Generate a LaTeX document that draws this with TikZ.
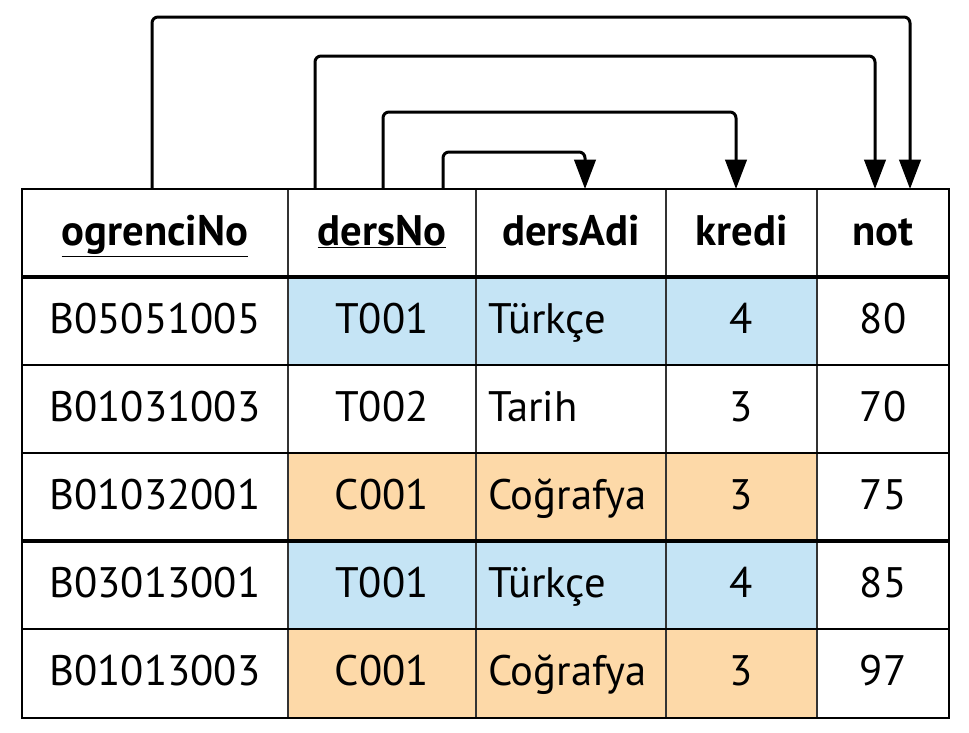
\documentclass[tikz,border=0pt]{standalone}
\usepackage{fontspec}
\setmainfont{PT Sans}
\usetikzlibrary{arrows.meta}
\definecolor{tblue}{RGB}{197,228,245}
\definecolor{torange}{RGB}{253,217,168}

\begin{document}
\begin{tikzpicture}[x=0.75pt, y=-0.75pt, >={Triangle[length=22pt, width=16pt]},
    every node/.style={font=\fontsize{32}{38}\selectfont},
    cell/.style={inner sep=0pt, minimum height=66pt, text height=24.5pt, text depth=6.5pt},
    dep/.style={->, line width=2.25pt, rounded corners=4.5pt},
    grid/.style={line width=1.2pt, black!80},
    rowline/.style={line width=1.5pt},
    thick line/.style={line width=3pt}]

    \useasboundingbox (0,0) rectangle (969,732);

    % header
    \node[cell, minimum width=199.5pt] (hA) at (155, 233) {\bfseries\underline{ogrenciNo}};
    \node[cell, minimum width=141pt] (hB) at (382, 233) {\bfseries\underline{dersNo}};
    \node[cell, minimum width=142.5pt] (hC) at (571, 233) {\bfseries dersAdi};
    \node[cell, minimum width=113.25pt] (hD) at (741.5, 233) {\bfseries kredi};
    \node[cell, minimum width=99pt] (hE) at (883, 233) {\bfseries not};

    % rows
    \foreach \r/\no/\ders/\ad/\kr/\nt/\fc in {
        1/B05051005/T001/Türkçe/4/80/tblue,
        2/B01031003/T002/Tarih/3/70/white,
        3/B01032001/C001/Coğrafya/3/75/torange,
        4/B03013001/T001/Türkçe/4/85/tblue,
        5/B01013003/C001/Coğrafya/3/97/torange}{
        \pgfmathsetmacro\yc{233+88*\r}
        \node[cell, minimum width=199.5pt] (r\r A) at (155, \yc) {\no};
        \node[cell, minimum width=141pt, fill=\fc] (r\r B) at (382, \yc) {\ders};
        \node[cell, inner xsep=9pt, text width=124.5pt, align=left, fill=\fc] (r\r C) at (571, \yc) {\ad};
        \node[cell, minimum width=113.25pt, fill=\fc] (r\r D) at (741.5, \yc) {\kr};
        \node[cell, minimum width=99pt] (r\r E) at (883, \yc) {\nt};
    }

    % grid
    \draw[grid] (288,189) -- (288,718);
    \draw[grid] (476,189) -- (476,718);
    \draw[grid] (666,189) -- (666,718);
    \draw[grid] (817,189) -- (817,718);
    \draw[rowline] (22,365) -- (949,365);
    \draw[rowline] (22,453) -- (949,453);
    \draw[rowline] (22,629) -- (949,629);
    \draw[thick line] (22,277) -- (949,277);
    \draw[thick line] (22,541) -- (949,541);
    \draw[rowline] (22,189) rectangle (949,718);

    % dependencies
    \coordinate (sA) at (152,189);
    \coordinate (sB1) at (315,189);
    \coordinate (sB2) at (383,189);
    \coordinate (sB3) at (443,189);
    \coordinate (tC) at (585,189);
    \coordinate (tD) at (736,189);
    \coordinate (tE1) at (875,189);
    \coordinate (tE2) at (910,189);

    \draw[dep] (sA) -- ++(0,-172) -| (tE2);
    \draw[dep] (sB1) -- ++(0,-133) -| (tE1);
    \draw[dep] (sB2) -- ++(0,-77) -| (tD);
    \draw[dep] (sB3) -- ++(0,-37) -| (tC);

\end{tikzpicture}
\end{document}
